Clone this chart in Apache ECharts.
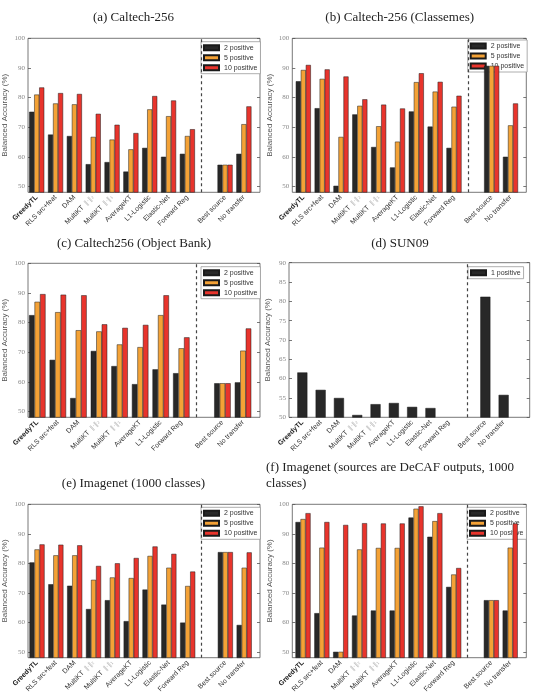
<!DOCTYPE html>
<html><head><meta charset="utf-8">
<script src="https://cdn.jsdelivr.net/npm/echarts@6/dist/echarts.min.js"></script>
<style>html,body{margin:0;padding:0;background:#fff}#c{width:533px;height:699px}</style>
</head><body><div id="c"></div>
<script>
// ---- data ----
const methods = ['GreedyTL','RLS src+feat','DAM','MultiKT ‖·‖₂','MultiKT ‖·‖₁','AverageKT','L1-Logistic','Elastic-Net','Forward Reg','','Best source','No transfer'];
const methodsC = ['GreedyTL','RLS src+feat','DAM','MultiKT ‖·‖₂','MultiKT ‖·‖₁','AverageKT','L1-Logistic','Forward Reg','','Best source','No transfer'];
const seriesNames = ['2 positive','5 positive','10 positive'];
const sunName = '1 positive';
const titles = ['(a) Caltech-256','(b) Caltech-256 (Classemes)','(c) Caltech256 (Object Bank)','(d) SUN09','(e) Imagenet (1000 classes)','(f) Imagenet (sources are DeCAF outputs, 1000\nclasses)'];
const yTicks100 = [50,60,70,80,90,100];
const yTicks90 = [50,55,60,65,70,75,80,85,90];

const a2  = [75.2,67.5,67.0,57.5,58.2,55.0,63.0,60.0,61.0,null,57.3,61.0];
const a5  = [81.0,78.0,77.7,66.7,65.8,62.5,76.0,73.7,67.0,null,57.3,71.0];
const a10 = [83.4,81.5,81.2,74.5,70.8,68.0,80.5,79.0,69.3,null,57.3,77.0];

const b2  = [85.5,76.4,50.2,74.3,63.3,56.4,75.3,70.2,63.0,null,90.7,60.0];
const b5  = [89.3,86.3,66.7,77.2,70.3,65.1,85.2,82.0,76.9,null,90.7,70.6];
const b10 = [91.0,89.5,87.1,79.4,77.6,76.3,88.2,85.3,80.6,null,90.7,78.0];

const c2  = [82.5,67.4,54.5,70.4,65.3,59.2,64.2,62.9,null,59.5,59.8];
const c5  = [87.0,83.5,77.4,77.0,72.6,71.7,82.5,71.3,null,59.5,70.5];
const c10 = [89.6,89.4,89.2,79.4,78.2,79.2,89.2,75.0,null,59.5,78.0];

const d1  = [61.6,57.1,55.0,50.6,53.4,53.7,52.7,52.4,null,null,81.2,55.8];

const e2  = [80.3,72.9,72.4,64.5,67.5,60.4,71.1,66.0,59.9,null,83.8,59.1];
const e5  = [84.7,82.7,82.7,74.4,75.2,75.0,82.5,78.5,72.3,null,83.8,78.5];
const e10 = [86.4,86.3,86.1,79.1,80.0,81.8,85.7,83.2,77.2,null,83.8,83.7];

const f2  = [94.0,63.1,50.0,62.3,64.0,64.0,95.5,89.0,72.0,null,67.5,64.0];
const f5  = [95.0,85.3,50.0,84.7,85.2,85.2,98.5,94.3,76.2,null,67.5,85.3];
const f10 = [97.0,94.0,93.0,93.6,93.5,93.5,99.3,97.0,78.4,null,67.5,93.5];

// ---- layout ----
const colors = ['#282828','#f4a236','#e8342c'];
const panels = [
  {cats:methods,  data:[a2,a5,a10], names:seriesNames, gap:9, ymin:48, ymax:100, ticks:yTicks100,
   frame:{left:26,top:38.3,width:234,height:154}, bars:{left:27.3,width:226}, legend:{left:201,top:41.7}, nameGap:19},
  {cats:methods,  data:[b2,b5,b10], names:seriesNames, gap:9, ymin:48, ymax:100, ticks:yTicks100,
   frame:{left:292.3,top:38.3,width:234,height:154}, bars:{left:293.9,width:226}, legend:{left:467.7,top:40}, nameGap:19},
  {cats:methodsC, data:[c2,c5,c10], names:seriesNames, gap:8, ymin:48, ymax:100, ticks:yTicks100,
   frame:{left:26,top:263.3,width:234,height:154}, bars:{left:27,width:226.3}, legend:{left:201,top:266.7}, nameGap:19},
  {cats:methods,  data:[d1], names:[sunName], gap:9, ymin:50, ymax:90, ticks:yTicks90,
   frame:{left:289,top:262.7,width:240.7,height:154.6}, bars:{left:293.2,width:219.6}, legend:{left:468,top:266.7}, nameGap:17},
  {cats:methods,  data:[e2,e5,e10], names:seriesNames, gap:9, ymin:48, ymax:100, ticks:yTicks100,
   frame:{left:26,top:504.3,width:234,height:153.4}, bars:{left:27.6,width:226}, legend:{left:201,top:507.3}, nameGap:19},
  {cats:methods,  data:[f2,f5,f10], names:seriesNames, gap:9, ymin:48, ymax:100, ticks:yTicks100,
   frame:{left:292.3,top:504.3,width:234,height:153.4}, bars:{left:293.6,width:226}, legend:{left:467,top:507.3}, nameGap:19}
];
const titlePos = [
  {x:133.5,y:18,align:'center'},{x:399.7,y:18,align:'center'},
  {x:134,y:244,align:'center'},{x:400,y:244,align:'center'},
  {x:133.5,y:484,align:'center'},{x:266,y:460,align:'left',top:true}
];

const grid=[], xAxis=[], yAxis=[], series=[], legend=[], graphic=[];
function labelFmt(v){
  if(v==='GreedyTL') return '{g|GreedyTL}';
  if(v.indexOf('MultiKT')===0) return '{a|MultiKT} {n|'+v.slice(8)+'}';
  return '{a|'+v+'}';
}
panels.forEach((p,i)=>{
  const fi = grid.length;
  grid.push({left:p.frame.left, top:p.frame.top, width:p.frame.width, height:p.frame.height,
    show:true, borderColor:'#555', borderWidth:0.8, backgroundColor:'transparent'});
  grid.push({left:p.bars.left, top:p.frame.top, width:p.bars.width, height:p.frame.height});
  // frame axes
  xAxis.push({gridIndex:fi, type:'value', show:false, min:0, max:1});
  const yl = yAxis.length;
  yAxis.push({gridIndex:fi, type:'value', min:p.ymin, max:p.ymax, position:'left',
    name:'Balanced Accuracy (%)', nameLocation:'middle', nameGap:p.nameGap,
    nameTextStyle:{fontFamily:'Liberation Sans', fontSize:8, color:'#555'},
    axisLine:{show:false}, splitLine:{show:false},
    axisTick:{show:true, inside:true, length:3, lineStyle:{color:'#555',width:0.8}, customValues:p.ticks},
    axisLabel:{fontFamily:'Liberation Serif', fontSize:7, color:'#888', margin:3, customValues:p.ticks}});
  yAxis.push({gridIndex:fi, type:'value', min:p.ymin, max:p.ymax, position:'right',
    axisLine:{show:false}, splitLine:{show:false}, axisLabel:{show:false},
    axisTick:{show:true, inside:true, length:3, lineStyle:{color:'#555',width:0.8}, customValues:p.ticks}});
  // bar axes
  const xb = xAxis.length;
  xAxis.push({gridIndex:fi+1, type:'category', data:p.cats,
    axisLine:{show:false}, axisTick:{show:false},
    axisLabel:{interval:0, rotate:45, margin:4, formatter:labelFmt,
      rich:{g:{fontFamily:'Liberation Sans',fontSize:7,fontWeight:'bold',color:'#222'},
            a:{fontFamily:'Liberation Sans',fontSize:7,color:'#333'},
            n:{fontFamily:'DejaVu Sans',fontSize:6.5,color:'#bbb'}}}});
  const yb = yAxis.length;
  yAxis.push({gridIndex:fi+1, type:'value', min:p.ymin, max:p.ymax, show:false, splitLine:{show:false}});
  p.data.forEach((d,k)=>{
    const s = {type:'bar', name:p.names[k], xAxisIndex:xb, yAxisIndex:yb, data:d,
      barGap:'0%', barCategoryGap: p.data.length===1 ? '45%' : '20%',
      itemStyle:{color:colors[k], borderColor:'#1a1a1a', borderWidth:0.5}, z:3};
    if(k===0){
      s.markLine = {silent:true, symbol:'none', label:{show:false},
        lineStyle:{type:[3,3], color:'#444', width:1.2},
        data:[{xAxis:p.gap}]};
    }
    series.push(s);
  });
  legend.push({left:p.legend.left, top:p.legend.top, orient:'vertical', data:p.names,
    selectedMode:false, icon:'rect', itemWidth:15, itemHeight:5, itemGap:2,
    padding:[2,3,2,2], backgroundColor:'#fff', borderColor:'#999', borderWidth:0.8,
    textStyle:{fontFamily:'Liberation Sans', fontSize:7, color:'#333', lineHeight:8}, z:2});
  const t = titlePos[i];
  graphic.push({type:'text', x:t.x, y:t.y, style:{text:titles[i], fontFamily:'Liberation Serif',
    fontSize:13, fill:'#222', align:t.align, verticalAlign:t.top?'top':'middle', lineHeight:16}});
});

const chart = echarts.init(document.getElementById('c'), null, {renderer:'canvas'});
chart.setOption({animation:false, grid, xAxis, yAxis, series, legend, graphic});
</script>
</body></html>
